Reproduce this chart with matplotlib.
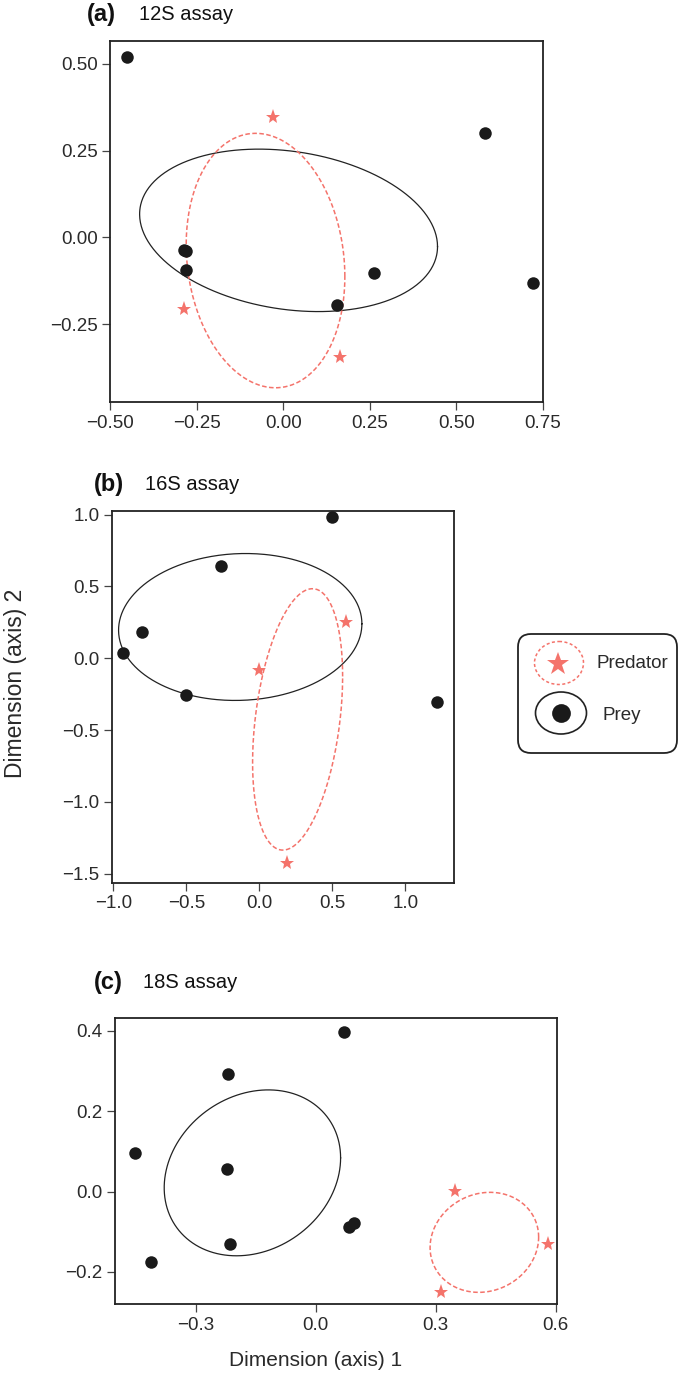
import numpy as np
import matplotlib
matplotlib.use("Agg")
import matplotlib.pyplot as plt
from matplotlib.patches import FancyBboxPatch, Ellipse
from matplotlib.ticker import FixedLocator, FuncFormatter

plt.rcParams['font.family'] = ['Liberation Sans', 'DejaVu Sans']
plt.rcParams['axes.unicode_minus'] = True

# ---------------- data ----------------
# Panel (a) 12S assay
a_prey_x = [-0.452, 0.582, -0.287, -0.282, -0.282, 0.262, 0.154, 0.721]
a_prey_y = [0.519, 0.300, -0.036, -0.040, -0.093, -0.103, -0.194, -0.132]
a_pred_x = [-0.030, -0.287, 0.164]
a_pred_y = [0.348, -0.206, -0.343]
# ellipse: centre x, centre y, x half-extent, y half-extent, phase (deg)
a_prey_ell = [0.0155, 0.0205, 0.430, 0.234, 101.5]
a_pred_ell = [-0.051, -0.0665, 0.229, 0.3665, 97.2]

# Panel (b) 16S assay
b_prey_x = [0.500, -0.260, -0.802, -0.935, -0.502, 1.216]
b_prey_y = [0.984, 0.639, 0.181, 0.035, -0.255, -0.306]
b_pred_x = [0.593, -0.002, 0.186]
b_pred_y = [0.250, -0.081, -1.424]
b_prey_ell = [-0.1315, 0.2175, 0.8335, 0.5115, 87.5]
b_pred_ell = [0.2616, -0.426, 0.3084, 0.910, 70.8]

# Panel (c) 18S assay
c_prey_x = [0.0705, -0.219, -0.453, -0.221, -0.215, -0.412, 0.083, 0.095]
c_prey_y = [0.396, 0.292, 0.096, 0.057, -0.130, -0.175, -0.088, -0.078]
c_pred_x = [0.347, 0.580, 0.312]
c_pred_y = [0.002, -0.131, -0.249]
c_prey_ell = [-0.1585, 0.0465, 0.2205, 0.2065, 79.6]
c_pred_ell = [0.4214, -0.1265, 0.1357, 0.1245, 84.0]

a_xticks = [-0.50, -0.25, 0.00, 0.25, 0.50, 0.75]
a_yticks = [-0.25, 0.00, 0.25, 0.50]
b_xticks = [-1.0, -0.5, 0.0, 0.5, 1.0]
b_yticks = [-1.5, -1.0, -0.5, 0.0, 0.5, 1.0]
c_xticks = [-0.3, 0.0, 0.3, 0.6]
c_yticks = [-0.2, 0.0, 0.2, 0.4]

panel_letters = ['(a)', '(b)', '(c)']
panel_titles = ['12S assay', '16S assay', '18S assay']
legend_labels = ['Predator', 'Prey']

# ---------------- style ----------------
W, H = 685, 1380
DPI = 100
PRED_COL = '#F4736B'
PREY_COL = '#1a1a1a'
TXT = '#2a2a2a'

fig = plt.figure(figsize=(W / DPI, H / DPI), dpi=DPI)


def px_axes(left, right, top, bottom):
    return fig.add_axes([left / W, 1 - bottom / H, (right - left) / W, (bottom - top) / H])


def ellipse_xy(p):
    cx, cy, rx, ry, ph = p
    t = np.linspace(0, 2 * np.pi, 400)
    return cx + rx * np.cos(t), cy + ry * np.cos(t - np.deg2rad(ph))


def make_fmt(fmt):
    return FuncFormatter(lambda v, pos: (fmt % v).replace('-', '\u2212'))


def panel(rect, prey_x, prey_y, pred_x, pred_y, prey_ell, pred_ell,
          xlim, ylim, xticks, yticks, fmt, letter, title, letter_x, title_x, title_y):
    ax = px_axes(*rect)
    ex, ey = ellipse_xy(prey_ell)
    ax.plot(ex, ey, color='#222222', lw=0.9)
    ex, ey = ellipse_xy(pred_ell)
    ax.plot(ex, ey, color=PRED_COL, lw=1.1, ls=(0, (3, 1.6)))
    ax.plot(prey_x, prey_y, 'o', color=PREY_COL, ms=9, mew=0, zorder=5)
    ax.plot(pred_x, pred_y, '*', color=PRED_COL, ms=11, mew=0, zorder=5)
    ax.set_xlim(*xlim)
    ax.set_ylim(*ylim)
    ax.xaxis.set_major_locator(FixedLocator(xticks))
    ax.yaxis.set_major_locator(FixedLocator(yticks))
    ax.xaxis.set_major_formatter(make_fmt(fmt))
    ax.yaxis.set_major_formatter(make_fmt(fmt))
    ax.tick_params(direction='out', length=6, width=0.9, labelsize=13.5,
                   colors='#444444', labelcolor=TXT, pad=3)
    for s in ax.spines.values():
        s.set_linewidth(1.3)
        s.set_color('#222222')
    fig.text(letter_x / W, 1 - title_y / H, letter, fontsize=17, fontweight='bold',
             ha='left', va='center', color='#111111')
    fig.text(title_x / W, 1 - title_y / H, title, fontsize=14.5,
             ha='left', va='center', color='#111111')
    return ax


ax_a = panel((110, 543, 41, 402), a_prey_x, a_prey_y, a_pred_x, a_pred_y,
             a_prey_ell, a_pred_ell, (-0.50, 0.75), (-0.474, 0.566),
             a_xticks, a_yticks, '%.2f', panel_letters[0], panel_titles[0], 87, 139, 14)
ax_b = panel((112, 454, 511, 883), b_prey_x, b_prey_y, b_pred_x, b_pred_y,
             b_prey_ell, b_pred_ell, (-1.01, 1.333), (-1.565, 1.025),
             b_xticks, b_yticks, '%.1f', panel_letters[1], panel_titles[1], 94, 145, 485)
ax_c = panel((115, 557, 1018, 1304), c_prey_x, c_prey_y, c_pred_x, c_pred_y,
             c_prey_ell, c_pred_ell, (-0.502, 0.603), (-0.280, 0.432),
             c_xticks, c_yticks, '%.1f', panel_letters[2], panel_titles[2], 94, 143, 983)

fig.text(16 / W, 1 - 683 / H, 'Dimension (axis) 2', rotation=90, fontsize=16.5,
         ha='center', va='center', color=TXT)
fig.text(316 / W, 1 - 1360 / H, 'Dimension (axis) 1', fontsize=15,
         ha='center', va='center', color=TXT)

# ---------------- legend ----------------
lg = px_axes(510, 685, 626, 760)
lg.set_xlim(510, 685)
lg.set_ylim(760, 626)
lg.axis('off')
lg.add_patch(FancyBboxPatch((518, 634), 159, 119, boxstyle='round,pad=0,rounding_size=13',
                            fc='white', ec='#222222', lw=1.3))
lg.add_patch(Ellipse((559, 663), 49, 43, fill=False, ec=PRED_COL, lw=1.1, ls=(0, (2, 1.6))))
lg.plot([558], [664], '*', color=PRED_COL, ms=17, mew=0)
lg.text(597, 663, legend_labels[0], fontsize=13.5, ha='left', va='center', color=TXT)
lg.add_patch(Ellipse((561, 713), 51, 42, fill=False, ec='#222222', lw=1.2))
lg.plot([561], [713], 'o', color=PREY_COL, ms=13.5, mew=0)
lg.text(603, 715, legend_labels[1], fontsize=13.5, ha='left', va='center', color=TXT)

fig.savefig('out.png', dpi=DPI)
